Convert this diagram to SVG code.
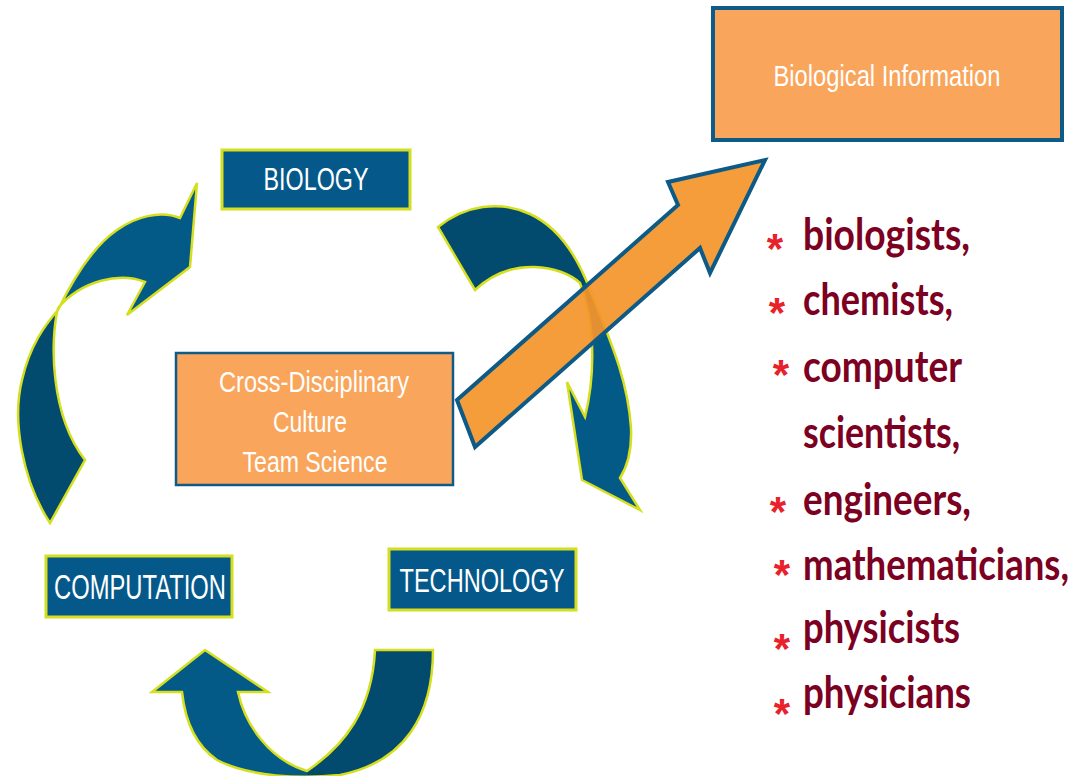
<svg xmlns="http://www.w3.org/2000/svg" width="1085" height="776" viewBox="0 0 1085 776">
  <defs>
    <style>
      .cyc { stroke: #d5df1f; stroke-width: 2.5; stroke-linejoin: miter; }
      .bluebox rect { fill: #04598a; stroke: #d5df1f; stroke-width: 3; }
      .orbox rect { fill: #f9a55b; stroke: #0f5b87; }
      .lbl { font-family: "Liberation Sans", Arial, sans-serif; fill: #ffffff; text-anchor: middle; }
      .who { font-family: Lato, "Open Sans", sans-serif; font-weight: 700; font-size: 36px; fill: #7c0021; }
      .star { font-family: "Liberation Sans", Arial, sans-serif; font-weight: 700; font-size: 42px; fill: #e8212b; text-anchor: middle; }
    </style>
    <!-- each curved arrow: darker at its tail, lighter at its head -->
    <linearGradient id="gLeft" gradientUnits="userSpaceOnUse" x1="0" y1="523" x2="0" y2="183">
      <stop offset="0" stop-color="#024a6e"/>
      <stop offset="0.62" stop-color="#024a6e"/>
      <stop offset="0.62" stop-color="#045a86"/>
      <stop offset="1" stop-color="#045a86"/>
    </linearGradient>
    <linearGradient id="gRight" gradientUnits="userSpaceOnUse" x1="0" y1="200" x2="0" y2="510">
      <stop offset="0" stop-color="#024a6e"/>
      <stop offset="0.33" stop-color="#024a6e"/>
      <stop offset="0.33" stop-color="#045a86"/>
      <stop offset="1" stop-color="#045a86"/>
    </linearGradient>
    <linearGradient id="gBottom" gradientUnits="userSpaceOnUse" x1="150" y1="0" x2="435" y2="0">
      <stop offset="0" stop-color="#045a86"/>
      <stop offset="0.551" stop-color="#045a86"/>
      <stop offset="0.551" stop-color="#024a6e"/>
      <stop offset="1" stop-color="#024a6e"/>
    </linearGradient>
  </defs>

  <rect width="1085" height="776" fill="#ffffff"/>

  <!-- cycle arrows between the three disciplines -->
  <g id="connectors">
    <path id="arrow-computation-biology" class="cyc" fill="url(#gLeft)"
      d="M50,523 C22,480 12,420 22,380 C30,345 45,325 58,310 C75,275 95,245 117,230 C135,217 160,210 180,218 L197,183 L190,267 L127,315 L145,282 C120,272 82,280 58,308 C50,340 50,415 85,460 Z"/>
    <path id="arrow-biology-technology" class="cyc" fill="url(#gRight)"
      d="M438,227 C465,205 500,200 530,214 C560,228 578,258 590,290 C610,340 628,380 631,428 C632,452 627,467 620,478 L640,510 L582,480 L567,382 L585,417 C593,385 598,330 580,283 C562,266 512,255 475,290 Z"/>
    <path id="arrow-technology-computation" class="cyc" fill="url(#gBottom)"
      d="M205,650 L268,692 L238,692 C245,725 270,760 307,771 C345,745 372,710 375,650 L433,650 C433,715 405,762 340,775 C300,779 250,777 217,760 C195,745 185,720 182,692 L152,692 Z"/>
    <!-- outflow from the culture box to biological information -->
    <path id="arrow-culture-information" fill="#f5952a" fill-opacity="0.92" stroke="#0d5a86" stroke-width="4" stroke-linejoin="miter"
      d="M457,400 L678,205 L668,182 L765,160 L710,273 L700,248 L475,447 Z"/>
  </g>

  <g id="biology" class="bluebox">
    <rect x="222" y="150" width="188" height="59"/>
    <text class="lbl" x="316" y="190" font-size="31" textLength="105" lengthAdjust="spacingAndGlyphs">BIOLOGY</text>
  </g>

  <g id="computation" class="bluebox">
    <rect x="46" y="556" width="186" height="61"/>
    <text class="lbl" x="140" y="599" font-size="35" textLength="172" lengthAdjust="spacingAndGlyphs">COMPUTATION</text>
  </g>

  <g id="technology" class="bluebox">
    <rect x="389" y="549" width="187" height="61"/>
    <text class="lbl" x="482" y="592" font-size="34" textLength="165" lengthAdjust="spacingAndGlyphs">TECHNOLOGY</text>
  </g>

  <g id="culture" class="orbox">
    <rect x="176" y="353" width="277" height="132" stroke-width="2.5"/>
    <text class="lbl" x="314" y="392" font-size="30" textLength="190" lengthAdjust="spacingAndGlyphs">Cross-Disciplinary</text>
    <text class="lbl" x="310" y="432" font-size="30" textLength="74" lengthAdjust="spacingAndGlyphs">Culture</text>
    <text class="lbl" x="315" y="472" font-size="30" textLength="145" lengthAdjust="spacingAndGlyphs">Team Science</text>
  </g>

  <g id="information" class="orbox">
    <rect x="713" y="8" width="349" height="132" stroke-width="4"/>
    <text class="lbl" x="887" y="86" font-size="29" textLength="227" lengthAdjust="spacingAndGlyphs">Biological Information</text>
  </g>

  <!-- list of disciplines: tall, narrow bold lettering -->
  <g id="disciplines">
    <text class="star" x="775" y="263">*</text>
    <text class="who" transform="translate(803,250) scale(1,1.22)" textLength="167" lengthAdjust="spacingAndGlyphs">biologists,</text>
    <text class="star" x="777" y="327">*</text>
    <text class="who" transform="translate(803,315) scale(1,1.22)" textLength="150" lengthAdjust="spacingAndGlyphs">chemists,</text>
    <text class="star" x="781" y="389">*</text>
    <text class="who" transform="translate(803,382) scale(1,1.22)" textLength="159" lengthAdjust="spacingAndGlyphs">computer</text>
    <text class="who" transform="translate(803,448) scale(1,1.22)" textLength="157" lengthAdjust="spacingAndGlyphs">scientists,</text>
    <text class="star" x="778" y="526">*</text>
    <text class="who" transform="translate(803,515) scale(1,1.22)" textLength="168" lengthAdjust="spacingAndGlyphs">engineers,</text>
    <text class="star" x="782" y="589">*</text>
    <text class="who" transform="translate(803,580) scale(1,1.22)" textLength="266" lengthAdjust="spacingAndGlyphs">mathematicians,</text>
    <text class="star" x="782" y="663">*</text>
    <text class="who" transform="translate(803,643) scale(1,1.22)" textLength="157" lengthAdjust="spacingAndGlyphs">physicists</text>
    <text class="star" x="782" y="728">*</text>
    <text class="who" transform="translate(803,708) scale(1,1.22)" textLength="168" lengthAdjust="spacingAndGlyphs">physicians</text>
  </g>
</svg>
